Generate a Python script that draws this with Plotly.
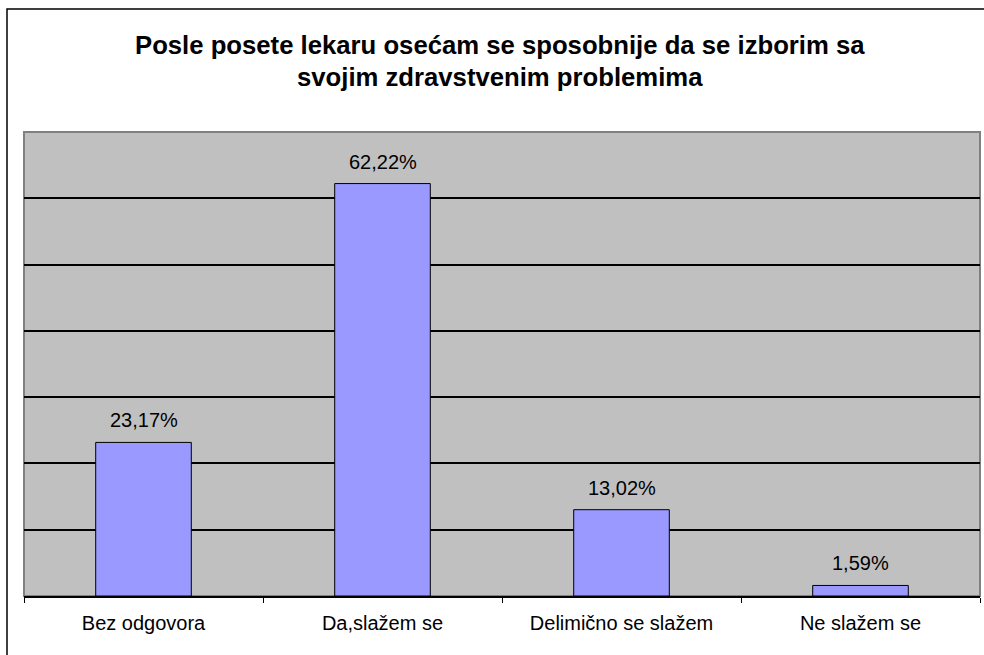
import plotly.graph_objects as go

# data
categories = ['Bez odgovora', 'Da,slažem se', 'Delimično se slažem', 'Ne slažem se']
percent = [23.17, 62.22, 13.02, 1.59]
title_lines = ['Posle posete lekaru osećam se sposobnije da se izborim sa',
               'svojim zdravstvenim problemima']

labels = [('%.2f' % v).replace('.', ',') + '%' for v in percent]

W, H = 984, 655
ml, mr, mt, mb = 24, 4, 132, 59
pw, ph = W - ml - mr, H - mt - mb
FONT = 'Liberation Sans, Arial'

fig = go.Figure()
fig.add_trace(go.Bar(
    x=categories, y=percent,
    marker=dict(color='#9999FF', line=dict(color='black', width=1)),
    width=0.4,
))

# value labels above the bars
for c, v, t in zip(categories, percent, labels):
    fig.add_annotation(x=c, y=v, text=t, showarrow=False, yanchor='bottom', yshift=9,
                       font=dict(family=FONT, size=20, color='black'))

fig.update_xaxes(showline=True, linecolor='black', linewidth=1.5,
                 ticks='outside', tickson='boundaries', ticklen=5, tickcolor='black',
                 tickfont=dict(family=FONT, size=20, color='black'),
                 ticklabelstandoff=8, showgrid=False)
fig.update_yaxes(range=[0, 70], dtick=10, showticklabels=False,
                 showgrid=True, gridcolor='black', gridwidth=1.5,
                 zeroline=False, showline=False)

# gray border around plot area
fig.add_shape(type='rect', xref='paper', yref='paper', x0=0, x1=1, y0=0, y1=1,
              line=dict(color='#808080', width=2), layer='below')
# outer chart frame (only top and left visible in the window)
fig.add_shape(type='rect', xref='paper', yref='paper',
              x0=(7 - ml) / pw, x1=1.2, y0=-0.5, y1=(H - mb - 9) / ph,
              line=dict(color='black', width=1.5))

for i, line in enumerate(title_lines):
    ypix = 45 + 32 * i
    fig.add_annotation(text='<b>' + line + '</b>', xref='paper', yref='paper',
                       x=(500 - ml) / pw, y=(H - mb - ypix) / ph,
                       xanchor='center', yanchor='middle', showarrow=False,
                       font=dict(family=FONT, size=25.7, color='black'))

fig.update_layout(
    width=W, height=H,
    margin=dict(l=ml, r=mr, t=mt, b=mb),
    plot_bgcolor='#C0C0C0', paper_bgcolor='white',
    showlegend=False, bargap=0.6,
)

fig.write_html('out.html', config={'displayModeBar': False},
               post_script="document.body.style.margin='0';")
